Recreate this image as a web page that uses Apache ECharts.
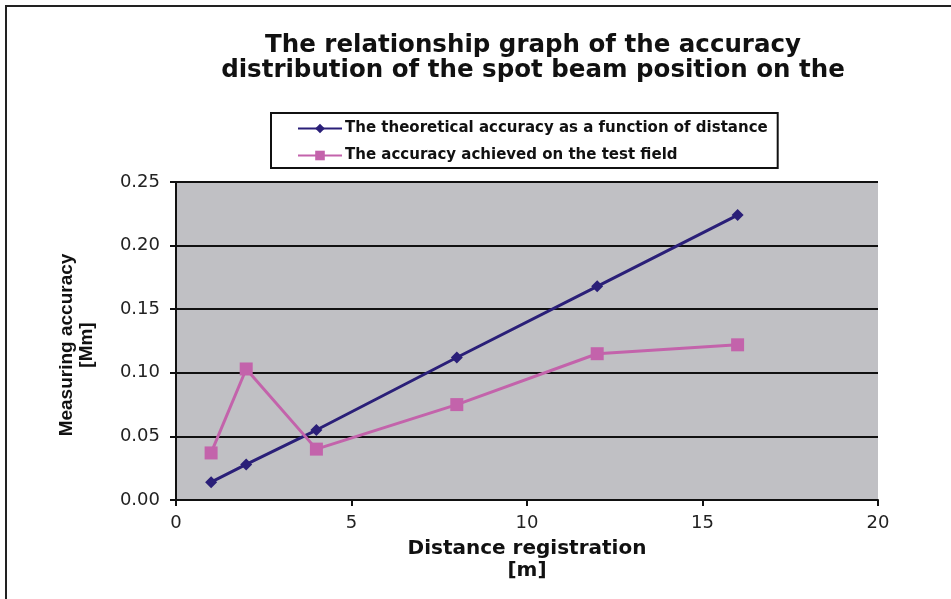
<!DOCTYPE html>
<html>
<head>
<meta charset="utf-8">
<script src="https://cdn.jsdelivr.net/npm/echarts@6/dist/echarts.min.js"></script>
<style>
  html, body { margin: 0; padding: 0; background: #fff; }
  #frame { position: absolute; left: 5px; top: 5px; width: 960px; height: 610px; border-left: 2px solid #222; border-top: 2px solid #222; box-sizing: border-box; }
  #chart { position: absolute; left: 0; top: 0; width: 951px; height: 599px; }
</style>
</head>
<body>
<div id="frame"></div>
<div id="chart"></div>
<script>
const distances = [1, 2, 4, 8, 12, 16];
const theoretical = [0.014, 0.028, 0.055, 0.112, 0.168, 0.224];
const achieved = [0.037, 0.103, 0.040, 0.075, 0.115, 0.122];
const seriesNames = [
  "The theoretical accuracy as a function of distance",
  "The accuracy achieved on the test field",
];

const chart = echarts.init(document.getElementById("chart"));
const font = "DejaVu Sans, Arial, sans-serif";

chart.setOption({
  animation: false,
  textStyle: { fontFamily: font },
  title: {
    text: "The relationship graph of the accuracy\ndistribution of the spot beam position on the",
    left: 528,
    textAlign: "center",
    top: 28,
    textStyle: { fontSize: 24.5, fontWeight: "bold", color: "#111", lineHeight: 25, fontFamily: font },
  },
  legend: {
    orient: "vertical",
    left: 271,
    top: 113,
    padding: [8, 10, 5, 26],
    itemGap: 12,
    itemWidth: 44,
    itemHeight: 12,
    backgroundColor: "#fff",
    borderColor: "#111",
    borderWidth: 2,
    textStyle: { fontSize: 15, fontWeight: "bold", color: "#111", fontFamily: font, padding: [0, 0, 0, -2] },
    data: seriesNames,
  },
  grid: { left: 176, right: 73, top: 182, bottom: 99, show: true, backgroundColor: "#c0c0c4", borderWidth: 0 },
  xAxis: {
    type: "value",
    min: 0,
    max: 20,
    interval: 5,
    name: "Distance registration\n[m]",
    nameLocation: "middle",
    nameGap: 38,
    nameTextStyle: { fontSize: 20, fontWeight: "bold", color: "#111", lineHeight: 22, fontFamily: font },
    axisLine: { onZero: false, lineStyle: { color: "#111", width: 2 } },
    axisTick: { show: true, length: 6, lineStyle: { color: "#111", width: 2 } },
    axisLabel: { fontSize: 18, color: "#222", margin: 14, fontFamily: font },
    splitLine: { show: false },
  },
  yAxis: {
    type: "value",
    min: 0,
    max: 0.25,
    interval: 0.05,
    name: "Measuring accuracy\n[Mm]",
    nameLocation: "middle",
    nameGap: 79,
    nameTextStyle: { fontSize: 19, fontWeight: "bold", color: "#111", lineHeight: 20, padding: [0, 8, 0, 0], fontFamily: "Liberation Sans Narrow, Liberation Sans, sans-serif" },
    axisLine: { show: true, lineStyle: { color: "#111", width: 2 } },
    axisTick: { show: true, length: 6, lineStyle: { color: "#111", width: 2 } },
    axisLabel: { fontSize: 18, color: "#222", margin: 16, fontFamily: font, formatter: (v) => v.toFixed(2) },
    splitLine: { show: true, lineStyle: { color: "#111", width: 2 } },
  },
  series: [
    {
      name: seriesNames[0],
      type: "line",
      data: distances.map((d, i) => [d, theoretical[i]]),
      color: "#2a1f78",
      symbol: "diamond",
      symbolSize: 12,
      lineStyle: { width: 3 },
    },
    {
      name: seriesNames[1],
      type: "line",
      data: distances.map((d, i) => [d, achieved[i]]),
      color: "#c363ab",
      symbol: "rect",
      symbolSize: 13,
      lineStyle: { width: 3 },
    },
  ],
});
</script>
</body>
</html>
